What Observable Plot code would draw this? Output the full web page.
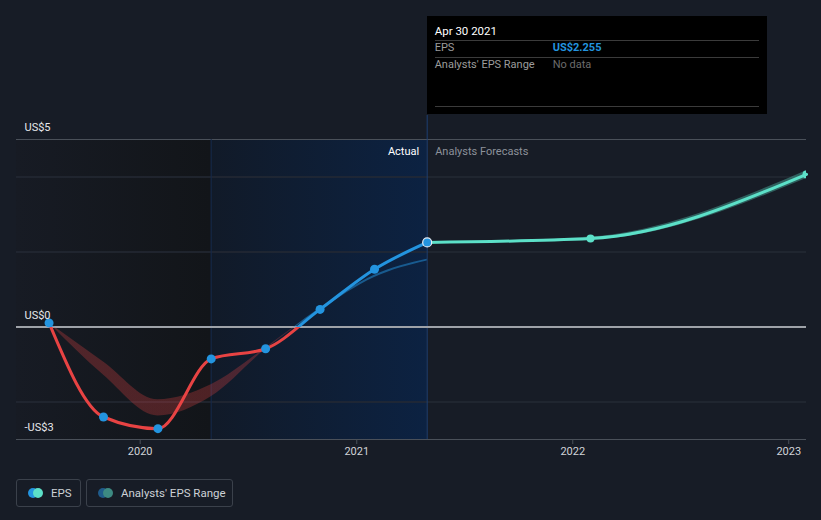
<!DOCTYPE html>
<html><head><meta charset="utf-8">
<script src="https://cdn.jsdelivr.net/npm/d3@7"></script>
<script src="https://cdn.jsdelivr.net/npm/@observablehq/plot@0.6"></script>
<style>
html,body{margin:0;padding:0;background:#171c26;}
body{width:821px;height:520px;overflow:hidden;font-family:Roboto,"Noto Sans",sans-serif;}
#wrap{position:relative;width:821px;height:520px;}
#wrap svg{position:absolute;left:0;top:0;}
#tip{position:absolute;top:16px;width:340px;height:98px;background:#000;box-sizing:border-box;font-size:11px;}
#tip .t{position:absolute;left:8px;top:7px;line-height:16px;color:#fff;font-size:11.5px;}
#tip .hr{position:absolute;left:8px;right:8px;height:0;border-top:1px solid #3b3b3b;}
#tip .lab{position:absolute;left:8px;line-height:16px;color:#9c9c9c;}
#tip .val{position:absolute;left:126px;line-height:16px;}
#legend{position:absolute;left:16px;top:479px;display:flex;gap:5px;}
.item{box-sizing:border-box;height:28px;border:1px solid #3b414b;border-radius:3px;display:flex;align-items:center;padding-left:11px;color:#cdd1d6;font-size:11.5px;}
.dots{position:relative;width:15px;height:10px;margin-right:8px;}
.dots span{position:absolute;top:0;width:10px;height:10px;border-radius:50%;}
</style></head>
<body><div id="wrap"></div>
<script>
// ---- data ----
const actualDates = ["2019-07-31","2019-10-31","2020-01-31","2020-04-30","2020-07-31","2020-10-31","2021-01-31","2021-04-30"];
const actualEPS   = [0.11, -2.40, -2.71, -0.85, -0.58, 0.47, 1.54, 2.255];
const pastRangeLow  = [0.11, -1.28, -2.37, -1.86, -0.60, 0.44, 1.32, 1.76];
const pastRangeHigh = [0.11, -0.93, -1.94, -1.54, -0.56, 0.50, 1.38, 1.81];
const forecastDates = ["2021-04-30","2022-01-31","2023-01-31"];
const forecastEPS   = [2.255, 2.36, 4.07];
const forecastLow   = [2.255, 2.32, 3.96];
const forecastHigh  = [2.255, 2.40, 4.17];
const xTickLabels = ["2020","2021","2022","2023"];
const yLabelValues = [5, 0, -3];
const gridValues = [-2, 2, 4];
const domainDates = ["2019-06-06","2023-01-31"];
const yearAgoDate = "2020-04-30";
const tooltip = {date:"Apr 30 2021", eps:"US$2.255", range:"No data"};

const parse = d3.utcParse("%Y-%m-%d");
const actual = actualDates.map((d,i)=>({date:parse(d), eps:actualEPS[i], low:pastRangeLow[i], high:pastRangeHigh[i]}));
const forecast = forecastDates.map((d,i)=>({date:parse(d), eps:forecastEPS[i], low:forecastLow[i], high:forecastHigh[i]}));
const xDomain = domainDates.map(parse);
const yearAgo = parse(yearAgoDate);
const lastDate = actual[actual.length-1].date;
const W = 821, H = 465;
const BLUE = "#2394df", RED = "#e84343", TEAL = "#5ce0c8";
const fmtY = v => v === 0 ? "US$0" : v < 0 ? `-US$${-v}` : `US$${v}`;

const plot = Plot.plot({
  width: W, height: H,
  marginLeft: 16, marginRight: 15, marginTop: 139, marginBottom: 26,
  style: {background: "transparent", fontFamily: "Roboto, sans-serif", fontSize: "11px", color: "#d0d3d8", overflow: "visible"},
  x: {type: "utc", domain: xDomain},
  y: {domain: [-3, 5], axis: null},
  marks: [
    Plot.rect([{a: xDomain[0], b: yearAgo}], {x1: "a", x2: "b", y1: () => -3, y2: () => 5, fill: "url(#gDark)"}),
    Plot.rect([{a: yearAgo, b: lastDate}], {x1: "a", x2: "b", y1: () => -3, y2: () => 5, fill: "url(#gBlue)"}),
    Plot.ruleY(gridValues, {stroke: "#242a34", strokeWidth: 1.5}),
    Plot.ruleY([5, -3], {stroke: "#4a5059"}),
    Plot.ruleX([yearAgo], {stroke: "#15294a"}),
    Plot.ruleX([lastDate], {stroke: "#1d3f72", insetTop: -24}),
    Plot.ruleY([0], {stroke: "#9ea2a8", strokeWidth: 2}),
    Plot.areaY(actual, {x: "date", y1: "low", y2: "high", curve: "monotone-x", fill: "url(#gBand)"}),
    Plot.areaY(forecast, {x: "date", y1: "low", y2: "high", curve: "monotone-x", fill: TEAL, fillOpacity: 0.35}),
    Plot.line(actual, {x: "date", y: "eps", curve: "monotone-x", stroke: "url(#gLine)", strokeWidth: 3}),
    Plot.line(forecast, {x: "date", y: "eps", curve: "monotone-x", stroke: TEAL, strokeWidth: 3}),
    Plot.dot(actual.slice(0, -1), {x: "date", y: "eps", r: 4.5, fill: BLUE}),
    Plot.dot(actual.slice(-1), {x: "date", y: "eps", r: 4.5, fill: BLUE, stroke: "#e6edf5", strokeWidth: 1.2}),
    Plot.dot(forecast.slice(1, 2), {x: "date", y: "eps", r: 4, fill: TEAL}),
    Plot.dot(forecast.slice(2), {x: "date", y: "eps", r: 4, fill: TEAL, clip: true}),
    Plot.text(yLabelValues, {y: d => d, text: fmtY, frameAnchor: "left", dx: 8, dy: -12, textAnchor: "start", fill: "#e6e8eb", fontSize: 11}),
    Plot.text(["Actual"], {x: () => lastDate, text: d => d, frameAnchor: "top", lineAnchor: "middle", dy: 12, dx: -8, textAnchor: "end", fill: "#ffffff", fontSize: 11}),
    Plot.text(["Analysts Forecasts"], {x: () => lastDate, text: d => d, frameAnchor: "top", lineAnchor: "middle", dy: 12, dx: 8, textAnchor: "start", fill: "#8c919a", fontSize: 11}),
    Plot.axisX({ticks: xTickLabels.map(y => parse(y + "-01-01")), tickFormat: "%Y", tickSize: 5, tickPadding: 3, stroke: "#4a5059", fill: "#d0d3d8", fontSize: 11})
  ]
});

const y0 = plot.scale("y").apply(0);
const off = (y0 / H).toFixed(4);
const ns = "http://www.w3.org/2000/svg";
const defs = document.createElementNS(ns, "defs");
defs.innerHTML = `
<linearGradient id="gLine" gradientUnits="userSpaceOnUse" x1="0" y1="0" x2="0" y2="${H}">
  <stop offset="${off}" stop-color="${BLUE}"/><stop offset="${off}" stop-color="${RED}"/>
</linearGradient>
<linearGradient id="gBand" gradientUnits="userSpaceOnUse" x1="0" y1="0" x2="0" y2="${H}">
  <stop offset="${off}" stop-color="${BLUE}" stop-opacity="0.5"/><stop offset="${off}" stop-color="${RED}" stop-opacity="0.28"/>
</linearGradient>
<linearGradient id="gDark" x1="0" y1="0" x2="1" y2="0">
  <stop offset="0" stop-color="#171b24"/><stop offset="1" stop-color="#121519"/>
</linearGradient>
<linearGradient id="gBlue" x1="0" y1="0" x2="1" y2="0">
  <stop offset="0" stop-color="#111a28"/><stop offset="1" stop-color="#0c2242"/>
</linearGradient>`;
plot.insertBefore(defs, plot.firstChild);

const wrap = document.getElementById("wrap");
wrap.appendChild(plot);

const tipLeft = plot.scale("x").apply(lastDate);
const tip = document.createElement("div");
tip.id = "tip";
tip.style.left = tipLeft + "px";
tip.innerHTML = `<div class="t">${tooltip.date}</div>
<div class="hr" style="top:24px"></div>
<div class="lab" style="top:24px">EPS</div><div class="val" style="top:24px;color:${BLUE};font-weight:bold">${tooltip.eps}</div>
<div class="hr" style="top:41px"></div>
<div class="lab" style="top:41px">Analysts' EPS Range</div><div class="val" style="top:41px;color:#6c6c6c">${tooltip.range}</div>
<div class="hr" style="top:90px"></div>`;
wrap.appendChild(tip);

const legend = document.createElement("div");
legend.id = "legend";
legend.innerHTML = `<div class="item" style="width:65px"><div class="dots"><span style="left:0;background:${BLUE}"></span><span style="left:5px;background:${TEAL}"></span></div>EPS</div>
<div class="item" style="width:147px"><div class="dots"><span style="left:0;background:#1f5b8a"></span><span style="left:5px;background:#3d8a82"></span></div>Analysts' EPS Range</div>`;
wrap.appendChild(legend);
</script></body></html>
